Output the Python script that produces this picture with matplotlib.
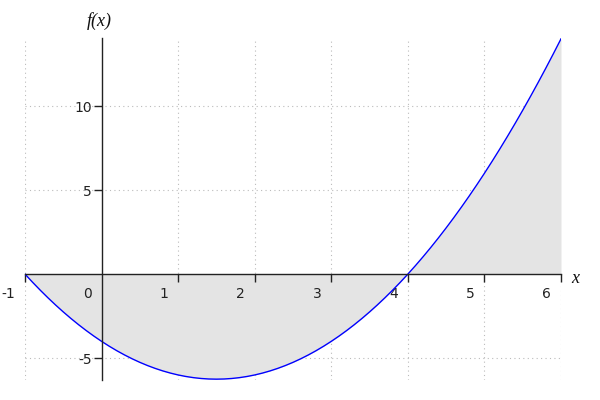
import matplotlib
matplotlib.use("Agg")
import matplotlib.pyplot as plt
from matplotlib.transforms import ScaledTranslation

# Values of f(x)
x_vals = [-1.0, -0.9, -0.8, -0.7, -0.6, -0.5, -0.4, -0.3, -0.2, -0.1,
          0.0, 0.1, 0.2, 0.3, 0.4, 0.5, 0.6, 0.7, 0.8, 0.9,
          1.0, 1.1, 1.2, 1.3, 1.4, 1.5, 1.6, 1.7, 1.8, 1.9,
          2.0, 2.1, 2.2, 2.3, 2.4, 2.5, 2.6, 2.7, 2.8, 2.9,
          3.0, 3.1, 3.2, 3.3, 3.4, 3.5, 3.6, 3.7, 3.8, 3.9,
          4.0, 4.1, 4.2, 4.3, 4.4, 4.5, 4.6, 4.7, 4.8, 4.9,
          5.0, 5.1, 5.2, 5.3, 5.4, 5.5, 5.6, 5.7, 5.8, 5.9, 6.0]
f_vals = [0.0, -0.49, -0.96, -1.41, -1.84, -2.25, -2.64, -3.01, -3.36, -3.69,
          -4.0, -4.29, -4.56, -4.81, -5.04, -5.25, -5.44, -5.61, -5.76, -5.89,
          -6.0, -6.09, -6.16, -6.21, -6.24, -6.25, -6.24, -6.21, -6.16, -6.09,
          -6.0, -5.89, -5.76, -5.61, -5.44, -5.25, -5.04, -4.81, -4.56, -4.29,
          -4.0, -3.69, -3.36, -3.01, -2.64, -2.25, -1.84, -1.41, -0.96, -0.49,
          0.0, 0.51, 1.04, 1.59, 2.16, 2.75, 3.36, 3.99, 4.64, 5.31,
          6.0, 6.71, 7.44, 8.19, 8.96, 9.75, 10.56, 11.39, 12.24, 13.11, 14.0]
x_ticks = [-1, 1, 2, 3, 4, 5, 6]
x_tick_labels = ["-1", "1", "2", "3", "4", "5", "6"]
x_grid = [-1, 1, 2, 3, 4, 5, 6]
y_ticks = [-5, 5, 10]
y_tick_labels = ["-5", "5", "10"]

fig = plt.figure(figsize=(6, 4), dpi=100)
ax = fig.add_axes([25/600, 20/400, 536/600, 342/400])
ax.set_xlim(-1, 6)
ax.set_ylim(-6.3, 14.05)

ax.fill_between(x_vals, f_vals, 0, color="#e4e4e4", linewidth=0, zorder=1)
ax.plot(x_vals, f_vals, color="#0000ff", linewidth=1.0, zorder=3)

# grid
for gx in x_grid:
    ax.axvline(gx, color="#bbbbbb", linestyle=(0, (1, 3)), linewidth=0.8, zorder=0.5)
for gy in y_ticks:
    ax.axhline(gy, color="#bbbbbb", linestyle=(0, (1, 3)), linewidth=0.8, zorder=0.5)

for s in ["top", "right"]:
    ax.spines[s].set_visible(False)
ax.spines["left"].set_position(("data", 0))
ax.spines["bottom"].set_position(("data", 0))
for s in ["left", "bottom"]:
    ax.spines[s].set_color("#222222")
    ax.spines[s].set_linewidth(1.0)
    ax.spines[s].set_zorder(4)

ax.set_xticks(x_ticks)
ax.set_xticklabels(x_tick_labels)
ax.set_yticks(y_ticks)
ax.set_yticklabels(y_tick_labels)
ax.tick_params(axis="both", colors="#222222", labelcolor="#222222", labelsize=10,
               length=6, width=1.0)
ax.tick_params(axis="y", pad=1)
ax.tick_params(axis="x", pad=3)

off = ScaledTranslation(-10/100, 0, fig.dpi_scale_trans)
for lab in ax.get_xticklabels():
    lab.set_horizontalalignment("right")
    lab.set_transform(lab.get_transform() + off)

# extra "0" label at origin
ax.text(0, 0, "0", transform=ax.transData + ScaledTranslation(-10/100, -13/100, fig.dpi_scale_trans),
        ha="right", va="top", fontsize=10, color="#222222")

ax.text(6, 0, "x", transform=ax.transData + ScaledTranslation(10/100, -4/100, fig.dpi_scale_trans),
        ha="left", va="center", fontsize=13, fontstyle="italic", family="Liberation Serif",
        color="#111111")
ax.text(0, 14.05, "f(x)", transform=ax.transData + ScaledTranslation(-2/100, 8/100, fig.dpi_scale_trans),
        ha="center", va="bottom", fontsize=13, fontstyle="italic", family="Liberation Serif",
        color="#111111")

fig.savefig("out.png", dpi=100)
